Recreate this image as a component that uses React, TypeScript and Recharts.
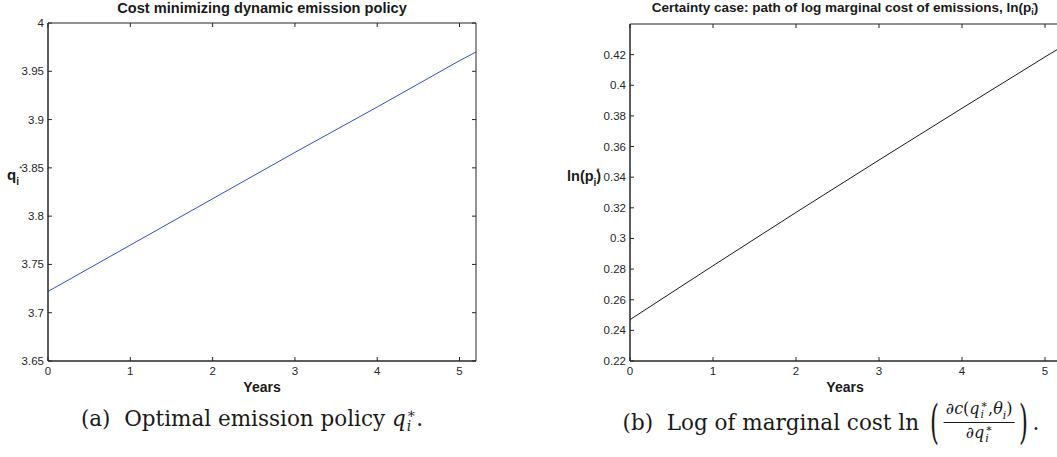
import React from 'react';
import { LineChart, Line, XAxis, YAxis, ReferenceArea } from 'recharts';

const years = [0, 1, 2, 3, 4, 5, 5.2];
const emissionPolicy = [3.722, 3.770, 3.818, 3.866, 3.913, 3.961, 3.970];
const logMarginalCost = [0.247, 0.2822, 0.317, 0.3512, 0.385, 0.4185, 0.425];

const xTicks = [0, 1, 2, 3, 4, 5];
const qTicks = [3.65, 3.7, 3.75, 3.8, 3.85, 3.9, 3.95, 4];
const lnTicks = [0.22, 0.24, 0.26, 0.28, 0.3, 0.32, 0.34, 0.36, 0.38, 0.4, 0.42];

const leftData = years.map((t, i) => ({ t, v: emissionPolicy[i] }));
const rightData = years.map((t, i) => ({ t, v: logMarginalCost[i] }));

const TICK_FONT = 'Liberation Sans, Arial, sans-serif';
const TICK_LEN = 4;

function makeYTick(left: number, right: number) {
  return (props: any) => {
    const { y, payload } = props;
    return (
      <g>
        <text x={left - 4} y={y} textAnchor="end" dominantBaseline="central"
          fontFamily={TICK_FONT} fontSize={11.5} fill="#262626">
          {String(Number(payload.value))}
        </text>
        <line x1={left} x2={left + TICK_LEN} y1={y} y2={y} stroke="#262626" />
        <line x1={right - TICK_LEN} x2={right} y1={y} y2={y} stroke="#262626" />
      </g>
    );
  };
}

function makeXTick(top: number, bottom: number) {
  return (props: any) => {
    const { x, payload } = props;
    return (
      <g>
        <text x={x} y={bottom + 14} textAnchor="middle"
          fontFamily={TICK_FONT} fontSize={11.5} fill="#262626">
          {payload.value}
        </text>
        <line x1={x} x2={x} y1={bottom - TICK_LEN} y2={bottom} stroke="#262626" />
        <line x1={x} x2={x} y1={top} y2={top + TICK_LEN} stroke="#262626" />
      </g>
    );
  };
}

const bold: React.CSSProperties = {
  position: 'absolute',
  fontFamily: TICK_FONT,
  fontWeight: 'bold',
  color: '#1a1a1a',
  whiteSpace: 'nowrap',
};

const serif: React.CSSProperties = {
  position: 'absolute',
  fontFamily: '"DejaVu Serif", "Liberation Serif", serif',
  fontSize: 21.5,
  color: '#1a1a1a',
  whiteSpace: 'nowrap',
};

// bold axis-label style: subscript i with a small star at its top right
function SubStar({ sub, star, top, gap }: { sub: number; star: number; top: number; gap?: number }) {
  return (
    <span style={{ position: 'relative', display: 'inline-block' }}>
      <span style={{ fontSize: sub, position: 'relative', top: top }}>i</span>
      <span style={{ fontSize: star, position: 'absolute', left: gap ?? 1, top: -star * 0.3, fontWeight: 'normal' }}>*</span>
    </span>
  );
}

// math style q*_i: star stacked over an italic i
function MathSubStar({ size }: { size: number }) {
  return (
    <span style={{ display: 'inline-flex', flexDirection: 'column', verticalAlign: 'middle', fontSize: size, lineHeight: `${size * 0.9}px`, marginLeft: 1 }}>
      <span>∗</span><i>i</i>
    </span>
  );
}

export default function App() {
  const L = { left: 48, right: 476, top: 23, bottom: 361 };
  const R = { left: 630, right: 1061.6, top: 24, bottom: 361 };
  const rOff = 540;

  return (
    <div style={{ position: 'absolute', left: 0, top: 0, width: 1057, height: 457, overflow: 'hidden', background: '#fff' }}>
      <div style={{ position: 'absolute', left: 0, top: 0 }}>
        <LineChart width={500} height={400} data={leftData}
          margin={{ top: L.top, right: 500 - L.right, left: 0, bottom: 9 }}>
          <XAxis dataKey="t" type="number" domain={[0, 5.2]} ticks={xTicks} height={30}
            axisLine={{ stroke: '#262626' }} tickLine={false}
            tick={makeXTick(L.top, L.bottom)} interval={0} />
          <YAxis type="number" domain={[3.65, 4]} ticks={qTicks} width={L.left}
            axisLine={{ stroke: '#262626' }} tickLine={false}
            tick={makeYTick(L.left, L.right)} interval={0} />
          <ReferenceArea x1={0} x2={5.2} y1={3.65} y2={4} fill="none" stroke="#262626" strokeWidth={1} />
          <Line dataKey="v" type="linear" stroke="#2f4fc4" strokeWidth={1} dot={false} isAnimationActive={false} />
        </LineChart>
      </div>

      <div style={{ position: 'absolute', left: rOff, top: 0 }}>
        <LineChart width={530} height={400} data={rightData}
          margin={{ top: R.top, right: 530 - (R.right - rOff), left: 0, bottom: 9 }}>
          <XAxis dataKey="t" type="number" domain={[0, 5.2]} ticks={xTicks} height={30}
            axisLine={{ stroke: '#262626' }} tickLine={false}
            tick={makeXTick(R.top, R.bottom)} interval={0} />
          <YAxis type="number" domain={[0.22, 0.44]} ticks={lnTicks} width={R.left - rOff}
            axisLine={{ stroke: '#262626' }} tickLine={false}
            tick={makeYTick(R.left - rOff, R.right - rOff)} interval={0} />
          <ReferenceArea x1={0} x2={5.2} y1={0.22} y2={0.44} fill="none" stroke="#262626" strokeWidth={1} />
          <Line dataKey="v" type="linear" stroke="#1a1a1a" strokeWidth={1} dot={false} isAnimationActive={false} />
        </LineChart>
      </div>

      {/* titles */}
      <div style={{ ...bold, fontSize: 14.6, left: 262, top: 0, transform: 'translateX(-50%)' }}>
        Cost minimizing dynamic emission policy
      </div>
      <div style={{ ...bold, fontSize: 13.5, left: 845, top: 0, lineHeight: '15px', transform: 'translateX(-50%)' }}>
        Certainty case: path of log marginal cost of emissions, ln(p<SubStar sub={9} star={6} top={3} />)
      </div>

      {/* y labels */}
      <div style={{ ...bold, fontSize: 15, left: 7, top: 166 }}>
        q<SubStar sub={10} star={8} top={5} gap={3} />
      </div>
      <div style={{ ...bold, fontSize: 14.5, left: 567, top: 168 }}>
        ln(p<SubStar sub={10} star={8} top={5} gap={3} />)
      </div>

      {/* x labels */}
      <div style={{ ...bold, fontSize: 14, left: 262, top: 379, transform: 'translateX(-50%)' }}>Years</div>
      <div style={{ ...bold, fontSize: 14, left: 845, top: 379, transform: 'translateX(-50%)' }}>Years</div>

      {/* captions */}
      <div style={{ ...serif, left: 252, top: 406, transform: 'translateX(-50%)' }}>
        (a)&nbsp; Optimal emission policy <i>q</i><MathSubStar size={14} />.
      </div>
      <div style={{ ...serif, left: 831, top: 398, transform: 'translateX(-50%)', display: 'flex', alignItems: 'center' }}>
        <span>(b)&nbsp; Log of marginal cost ln&nbsp;</span>
        <span style={{ fontSize: 46, fontWeight: 100, transform: 'scaleX(0.5)', lineHeight: '48px' }}>(</span>
        <span style={{ display: 'inline-flex', flexDirection: 'column', alignItems: 'center', fontSize: 16, lineHeight: '18px' }}>
          <span style={{ borderBottom: '1.3px solid #1a1a1a', padding: '0 2px 1px' }}>
            ∂<i>c</i>(<i>q</i><MathSubStar size={11} />,<i>θ</i><sub style={{ fontSize: 11, lineHeight: '10px' }}><i>i</i></sub>)
          </span>
          <span style={{ paddingTop: 1 }}>
            ∂<i>q</i><MathSubStar size={11} />
          </span>
        </span>
        <span style={{ fontSize: 46, fontWeight: 100, transform: 'scaleX(0.5)', lineHeight: '48px' }}>)</span>
        <span>.</span>
      </div>
    </div>
  );
}
